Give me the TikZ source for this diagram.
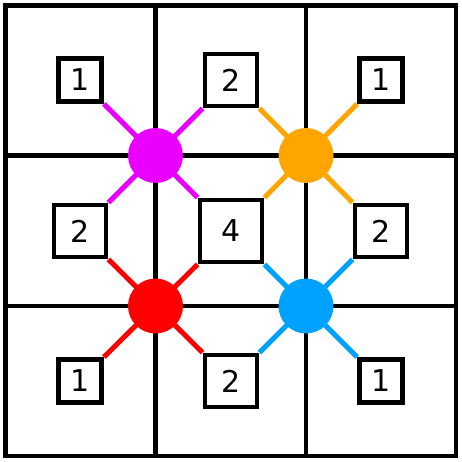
\documentclass[tikz,border=0pt]{standalone}
\usepackage{fontspec}
\setmainfont{DejaVu Sans}
\definecolor{cmag}{RGB}{234,0,255}
\definecolor{corg}{RGB}{255,165,0}
\definecolor{cred}{RGB}{255,0,0}
\definecolor{cblu}{RGB}{0,162,255}
\begin{document}
\begin{tikzpicture}[x=1pt,y=-1pt,
  box/.style={draw=black,line width=4.8pt,fill=white,rectangle,inner sep=0pt,font=\fontsize{30}{36}\selectfont},
  sbox/.style={box,minimum size=43pt},
  mbox/.style={box,minimum size=52pt},
  lbox/.style={box,minimum size=62pt},
  dot/.style={circle,fill=#1,draw=none,minimum size=55pt,inner sep=0pt},
  link/.style={draw=#1,line width=5pt,shorten <=-4pt},
  gridline/.style={line width=4.8pt,black}]
\useasboundingbox (0,0) rectangle (462,462);
\fill[white] (0,0) rectangle (462,462);
% grid
\draw[gridline] (5.5,5.5) rectangle (456,456);
\draw[gridline] (155.5,5.5) -- (155.5,456);
\draw[gridline] (306,5.5) -- (306,456);
\draw[gridline] (5.5,155.5) -- (456,155.5);
\draw[gridline] (5.5,306) -- (456,306);
% dots
\node[dot=cmag] (m) at (155.5,155.5) {};
\node[dot=corg] (o) at (306,155.5) {};
\node[dot=cred] (r) at (155.5,306) {};
\node[dot=cblu] (b) at (306,306) {};
% boxes
\node[sbox] (tl) at (80,80) {1};
\node[mbox] (tc) at (231,80) {2};
\node[sbox] (tr) at (381,80) {1};
\node[mbox] (ml) at (80,231) {2};
\node[lbox] (mc) at (231,231) {4};
\node[mbox] (mr) at (381,231) {2};
\node[sbox] (bl) at (80,381) {1};
\node[mbox] (bc) at (231,381) {2};
\node[sbox] (br) at (381,381) {1};
% links
\draw[link=cmag] (m) -- (tl.south east);
\draw[link=cmag] (m) -- (tc.south west);
\draw[link=cmag] (m) -- (ml.north east);
\draw[link=cmag] (m) -- (mc.north west);
\draw[link=corg] (o) -- (tc.south east);
\draw[link=corg] (o) -- (tr.south west);
\draw[link=corg] (o) -- (mc.north east);
\draw[link=corg] (o) -- (mr.north west);
\draw[link=cred] (r) -- (ml.south east);
\draw[link=cred] (r) -- (mc.south west);
\draw[link=cred] (r) -- (bl.north east);
\draw[link=cred] (r) -- (bc.north west);
\draw[link=cblu] (b) -- (mc.south east);
\draw[link=cblu] (b) -- (mr.south west);
\draw[link=cblu] (b) -- (bc.north east);
\draw[link=cblu] (b) -- (br.north west);
\end{tikzpicture}
\end{document}
